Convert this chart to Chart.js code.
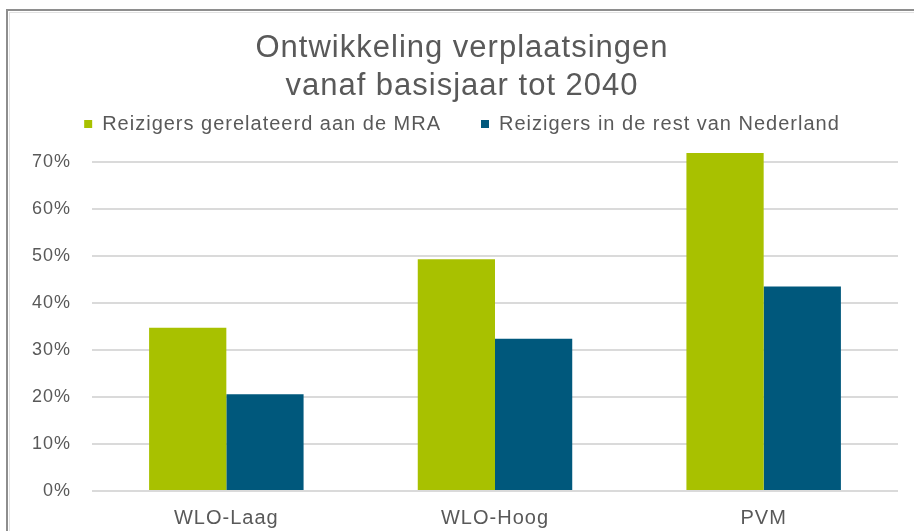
<!DOCTYPE html>
<html>
<head>
<meta charset="utf-8">
<script src="https://cdn.jsdelivr.net/npm/chart.js@4"></script>
<style>
  html, body { margin: 0; padding: 0; background: #ffffff; }
  canvas { display: block; }
</style>
</head>
<body>
<canvas id="mraChart" width="914" height="531"></canvas>
<script>
// Chart data (percent growth of trips, base year to 2040)
const scenarios = ['WLO-Laag', 'WLO-Hoog', 'PVM'];
const seriesNames = ['Reizigers gerelateerd aan de MRA', 'Reizigers in de rest van Nederland'];
const mraValues = [34.7, 49.3, 71.9];
const restValues = [20.6, 32.4, 43.5];
const yTickValues = [0, 10, 20, 30, 40, 50, 60, 70];

const textGrey = '#595959';
const fontFamily = '"Liberation Sans", Arial, sans-serif';
const textSpacing = '1px'; // the original text looks a bit stretched sideways

// white background plus the grey frame of the original picture
const framePlugin = {
    id: 'frame',
    beforeLayout(chart) {
        chart.ctx.letterSpacing = textSpacing;
    },
    beforeDraw(chart) {
        const ctx = chart.ctx;
        ctx.letterSpacing = textSpacing;
        ctx.save();
        ctx.fillStyle = '#ffffff';
        ctx.fillRect(0, 0, chart.width, chart.height);
        ctx.strokeStyle = '#8e8e8e';
        ctx.lineWidth = 2;
        ctx.strokeRect(7, 10, 1000, 1000);
        ctx.strokeStyle = '#e2e2e2';
        ctx.lineWidth = 1;
        ctx.strokeRect(9.5, 12.5, 1000, 1000);
        ctx.restore();
    }
};

const ctx = document.getElementById('mraChart').getContext('2d');

const chart = new Chart(ctx, {
    type: 'bar',
    data: {
        labels: scenarios,
        datasets: [
            {
                label: seriesNames[0],
                data: mraValues,
                backgroundColor: '#a8c100',
                borderWidth: 0
            },
            {
                label: seriesNames[1],
                data: restValues,
                backgroundColor: '#00587c',
                borderWidth: 0
            }
        ]
    },
    options: {
        responsive: false,
        animation: false,
        devicePixelRatio: 1,
        layout: {
            padding: { top: 0, right: 16, bottom: 0, left: 26 }
        },
        datasets: {
            bar: {
                categoryPercentage: 0.575,
                barPercentage: 1.0
            }
        },
        plugins: {
            title: {
                display: true,
                text: ['Ontwikkeling verplaatsingen', 'vanaf basisjaar tot 2040'],
                color: textGrey,
                font: { family: fontFamily, size: 31, weight: 'normal', lineHeight: 38.5 / 31 },
                padding: { top: 29, bottom: -32 }
            },
            legend: {
                display: true,
                position: 'top',
                labels: {
                    color: textGrey,
                    font: { family: fontFamily, size: 20 },
                    boxWidth: 8,
                    boxHeight: 8,
                    padding: 40
                }
            },
            tooltip: { enabled: false }
        },
        scales: {
            x: {
                grid: { display: false, drawTicks: false },
                border: { display: false },
                ticks: {
                    color: textGrey,
                    font: { family: fontFamily, size: 20 },
                    padding: 15,
                    maxRotation: 0
                },
                afterFit(axis) {
                    axis.height = 40;
                }
            },
            y: {
                min: 0,
                max: 73.8,
                grid: {
                    color: '#dadada',
                    lineWidth: 2,
                    drawTicks: false
                },
                border: { display: false },
                ticks: {
                    stepSize: 10,
                    color: textGrey,
                    font: { family: fontFamily, size: 18 },
                    padding: 21,
                    callback: value => value + '%'
                },
                afterBuildTicks(axis) {
                    axis.ticks = yTickValues.map(v => ({ value: v }));
                },
                afterFit(axis) {
                    axis.width = 66;
                }
            }
        }
    },
    plugins: [framePlugin]
});
</script>
</body>
</html>
